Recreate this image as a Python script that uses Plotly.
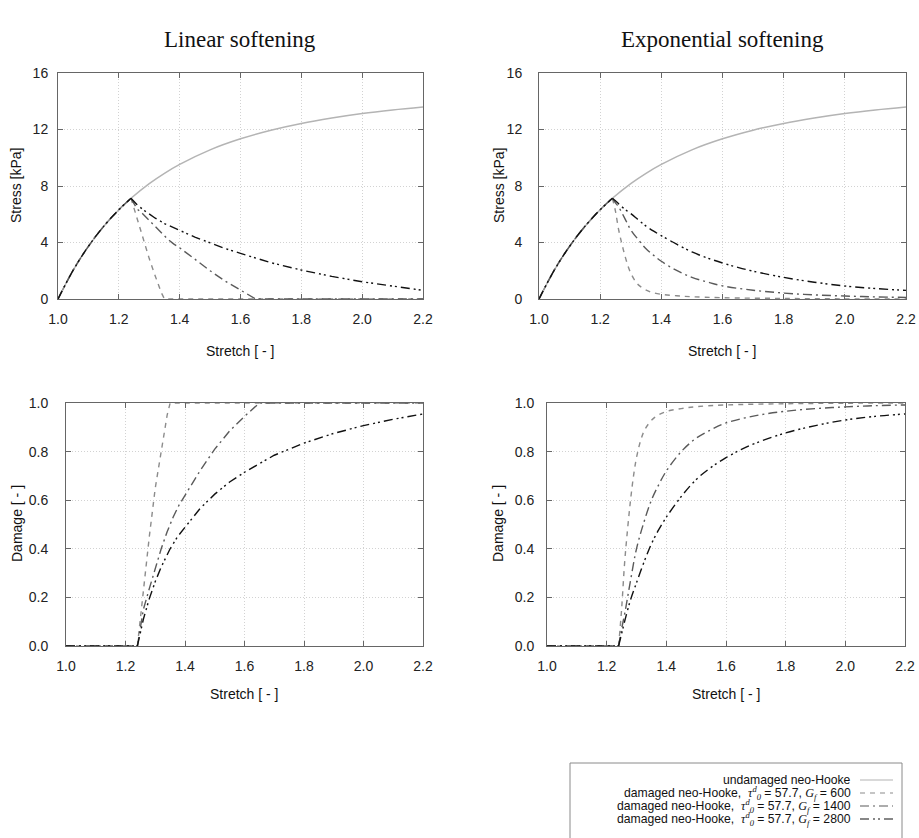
import plotly.graph_objects as go

# ---------------- data ----------------
stretch_und = [1.0, 1.05, 1.1, 1.15, 1.2, 1.24, 1.3, 1.35, 1.4, 1.5, 1.6, 1.7, 1.8, 1.9, 2.0, 2.1, 2.2]
stress_und = [0.0, 2.04, 3.73, 5.14, 6.32, 7.13, 8.17, 8.90, 9.53, 10.56, 11.34, 11.95, 12.43, 12.81, 13.13, 13.38, 13.59]

# pre-peak part shared by all damaged curves
stretch_pre = [1.0, 1.05, 1.1, 1.15, 1.2, 1.24]
stress_pre = [0.0, 2.04, 3.73, 5.14, 6.32, 7.13]
damage_pre = [0.0, 0.0, 0.0, 0.0, 0.0, 0.0]

# post-peak parts (start at the peak, stretch 1.24)
# Linear softening
lin600_x = [1.24, 1.26, 1.28, 1.30, 1.32, 1.34, 1.35, 1.5, 1.8, 2.2]
lin600_stress = [7.13, 5.70, 4.32, 2.86, 1.61, 0.43, 0.0, 0.0, 0.0, 0.0]
lin600_damage = [0.0, 0.24, 0.45, 0.65, 0.81, 0.95, 1.0, 1.0, 1.0, 1.0]

lin1400_x = [1.24, 1.26, 1.28, 1.30, 1.32, 1.34, 1.36, 1.38, 1.40, 1.45, 1.50, 1.55, 1.60, 1.65, 1.8, 2.0, 2.2]
lin1400_stress = [7.13, 6.38, 6.00, 5.56, 5.09, 4.65, 4.25, 3.90, 3.62, 2.82, 2.00, 1.26, 0.62, 0.0, 0.0, 0.0, 0.0]
lin1400_damage = [0.0, 0.15, 0.236, 0.32, 0.40, 0.47, 0.53, 0.58, 0.62, 0.72, 0.81, 0.885, 0.945, 1.0, 1.0, 1.0, 1.0]

lin2800_x = [1.24, 1.25, 1.26, 1.28, 1.30, 1.32, 1.35, 1.375, 1.40, 1.45, 1.50, 1.55, 1.60, 1.70, 1.80, 1.90, 2.00, 2.10, 2.20]
lin2800_stress = [7.13, 6.88, 6.68, 6.32, 6.00, 5.72, 5.34, 5.08, 4.86, 4.38, 3.96, 3.57, 3.23, 2.57, 2.05, 1.60, 1.22, 0.90, 0.61]
lin2800_damage = [0.0, 0.06, 0.11, 0.195, 0.265, 0.325, 0.40, 0.45, 0.49, 0.565, 0.625, 0.675, 0.715, 0.785, 0.835, 0.875, 0.907, 0.933, 0.955]

# Exponential softening
exp600_x = [1.24, 1.25, 1.26, 1.27, 1.28, 1.29, 1.30, 1.315, 1.33, 1.36, 1.40, 1.45, 1.50, 1.60, 1.80, 2.00, 2.20]
exp600_stress = [7.13, 6.22, 4.95, 3.99, 3.14, 2.40, 1.84, 1.26, 0.91, 0.54, 0.33, 0.23, 0.16, 0.09, 0.04, 0.01, 0.0]
exp600_damage = [0.0, 0.15, 0.34, 0.48, 0.60, 0.70, 0.775, 0.85, 0.895, 0.94, 0.965, 0.977, 0.985, 0.992, 0.997, 0.999, 1.0]

exp1400_x = [1.24, 1.25, 1.26, 1.28, 1.30, 1.325, 1.35, 1.375, 1.40, 1.45, 1.50, 1.55, 1.60, 1.70, 1.80, 1.90, 2.00, 2.10, 2.20]
exp1400_stress = [7.13, 6.81, 6.53, 5.73, 4.90, 4.19, 3.56, 3.09, 2.67, 2.02, 1.53, 1.21, 0.93, 0.62, 0.42, 0.29, 0.21, 0.15, 0.11]
exp1400_damage = [0.0, 0.07, 0.13, 0.27, 0.40, 0.51, 0.60, 0.665, 0.72, 0.80, 0.855, 0.89, 0.918, 0.948, 0.966, 0.977, 0.984, 0.989, 0.992]

exp2800_x = [1.24, 1.25, 1.26, 1.28, 1.30, 1.325, 1.35, 1.375, 1.40, 1.45, 1.50, 1.55, 1.60, 1.65, 1.70, 1.80, 1.90, 2.00, 2.10, 2.20]
exp2800_stress = [7.13, 6.95, 6.75, 6.36, 6.05, 5.60, 5.16, 4.80, 4.48, 3.88, 3.33, 2.91, 2.55, 2.24, 1.97, 1.53, 1.19, 0.92, 0.74, 0.61]
exp2800_damage = [0.0, 0.05, 0.10, 0.19, 0.26, 0.345, 0.42, 0.48, 0.53, 0.615, 0.685, 0.735, 0.775, 0.808, 0.835, 0.877, 0.907, 0.93, 0.945, 0.955]

x_ticks = [1.0, 1.2, 1.4, 1.6, 1.8, 2.0, 2.2]
stress_ticks = [0, 4, 8, 12, 16]
damage_ticks = [0.0, 0.2, 0.4, 0.6, 0.8, 1.0]

titles = ["Linear softening", "Exponential softening"]
legend_labels = [
    "undamaged neo-Hooke",
    "damaged neo-Hooke,  {tau} = 57.7, {G} = 600",
    "damaged neo-Hooke,  {tau} = 57.7, {G} = 1400",
    "damaged neo-Hooke,  {tau} = 57.7, {G} = 2800",
]

# ---------------- styles ----------------
W, H = 919, 838
SANS = "Liberation Sans, Arial, sans-serif"
SERIF = "Liberation Serif, Times New Roman, serif"
styles = {
    "und": dict(color="#b4b4b4", width=1.5, dash="solid"),
    "600": dict(color="#8c8c8c", width=1.4, dash="5px,5px"),
    "1400": dict(color="#5a5a5a", width=1.4, dash="9px,4px,2px,4px"),
    "2800": dict(color="#111111", width=1.4, dash="9px,4px,2px,3px,2px,4px"),
}

fig = go.Figure()


def add(x, y, key, xa, ya, shape="linear"):
    fig.add_trace(go.Scatter(x=x, y=y, mode="lines", line=dict(**styles[key], shape=shape),
                             xaxis=xa, yaxis=ya, showlegend=False, hoverinfo="skip"))


series = {
    "lin": [("600", lin600_x, lin600_stress, lin600_damage),
            ("1400", lin1400_x, lin1400_stress, lin1400_damage),
            ("2800", lin2800_x, lin2800_stress, lin2800_damage)],
    "exp": [("600", exp600_x, exp600_stress, exp600_damage),
            ("1400", exp1400_x, exp1400_stress, exp1400_damage),
            ("2800", exp2800_x, exp2800_stress, exp2800_damage)],
}

for kind, (xs, ys, xd_, yd_) in zip(["lin", "exp"], [("x", "y", "x3", "y3"), ("x2", "y2", "x4", "y4")]):
    add(stretch_und, stress_und, "und", xs, ys, shape="spline")
    post_shape = "linear" if kind == "lin" else "spline"
    for key, sx, ss, sd in series[kind]:
        add(stretch_pre, stress_pre, key, xs, ys, shape="spline")
        add(sx, ss, key, xs, ys, shape=post_shape)
        add(stretch_pre, damage_pre, key, xd_, yd_)
        add(sx, sd, key, xd_, yd_, shape=post_shape)


def xdom(a, b):
    return [a / W, b / W]


def ydom(top, bottom):
    return [1 - bottom / H, 1 - top / H]


common = dict(showline=True, linecolor="#666666", linewidth=1, mirror="allticks",
              ticks="inside", ticklen=5, tickcolor="#666666", tickwidth=1,
              showgrid=True, gridcolor="#d2d2d2", griddash="1px,2px", gridwidth=1,
              zeroline=False, automargin=False,
              tickfont=dict(family=SANS, size=14, color="#222"))

layout_axes = {}
panels = [
    ("xaxis", "yaxis", "y", "x", (58, 423), (73, 299), stress_ticks, [0, 16], "d", 7, 6),
    ("xaxis2", "yaxis2", "y2", "x2", (539, 906), (73, 299), stress_ticks, [0, 16], "d", 7, 13),
    ("xaxis3", "yaxis3", "y3", "x3", (66, 423), (403, 646), damage_ticks, [0, 1], ".1f", 7, 14),
    ("xaxis4", "yaxis4", "y4", "x4", (547, 905), (403, 646), damage_ticks, [0, 1], ".1f", 7, 9),
]
for xname, yname, yanchor, xanchor, (xa, xb), (yt, yb), yt_vals, yr, yfmt, xstand, ystand in panels:
    layout_axes[xname] = dict(common, domain=xdom(xa, xb), anchor=yanchor, range=[1.0, 2.2],
                              tickvals=x_ticks, tickformat=".1f", ticklabelstandoff=xstand)
    layout_axes[yname] = dict(common, domain=ydom(yt, yb), anchor=xanchor, range=yr,
                              tickvals=yt_vals, tickformat=yfmt, ticklabelstandoff=ystand)

ann = []


def text(x, y, s, size=14, family=SANS, angle=0, xanchor="center"):
    ann.append(dict(x=x / W, y=1 - y / H, xref="paper", yref="paper", text=s, showarrow=False,
                    font=dict(family=family, size=size, color="#111"), textangle=angle,
                    xanchor=xanchor, yanchor="middle"))


text(240, 39, titles[0], size=23, family=SERIF)
text(722, 39, titles[1], size=23, family=SERIF)
text(16, 186, "Stress [kPa]", angle=-90)
text(499, 186, "Stress [kPa]", angle=-90)
text(17, 524, "Damage [ - ]", angle=-90)
text(498, 524, "Damage [ - ]", angle=-90)
text(240, 351, "Stretch [ - ]")
text(722, 351, "Stretch [ - ]")
text(244, 694, "Stretch [ - ]")
text(726, 694, "Stretch [ - ]")

# legend (custom, right-aligned text with samples to the right)
tau = ("<span style=\"font-family:'Liberation Serif'\"><i>τ</i><sup><i>d</i></sup>"
       "<sub><i>0</i></sub></span>")
G = "<span style=\"font-family:'Liberation Serif'\"><i>G</i><sub><i>f</i></sub></span>"
row_y = [780, 793, 806, 819]
keys = ["und", "600", "1400", "2800"]
shapes = [dict(type="rect", xref="paper", yref="paper", x0=570 / W, x1=902 / W,
               y0=1 - 860 / H, y1=1 - 763 / H, line=dict(color="#8a8a8a", width=1),
               fillcolor="rgba(0,0,0,0)")]
for lbl, ry, key in zip(legend_labels, row_y, keys):
    text(853, ry, lbl.format(tau=tau, G=G), size=12.2, xanchor="right")
    st = styles[key]
    shapes.append(dict(type="line", xref="paper", yref="paper", x0=860 / W, x1=893 / W,
                       y0=1 - ry / H, y1=1 - ry / H,
                       line=dict(color=st["color"], width=1.2, dash=st["dash"])))

fig.update_layout(width=W, height=H, margin=dict(l=0, r=0, t=0, b=0, autoexpand=False),
                  paper_bgcolor="white", plot_bgcolor="white",
                  annotations=ann, shapes=shapes, showlegend=False, **layout_axes)

fig.write_html("out.html")
